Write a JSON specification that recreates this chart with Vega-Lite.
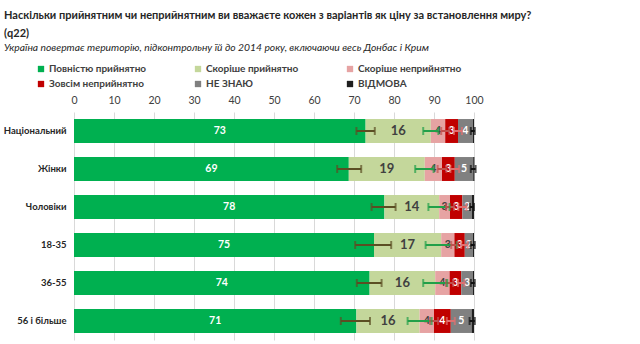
{
  "$schema": "https://vega.github.io/schema/vega-lite/v6.json",
  "autosize": "none",
  "width": 400,
  "height": 228,
  "padding": {"left": 74, "top": 112, "right": 166, "bottom": 4},
  "background": "white",
  "config": {
    "view": {"stroke": null},
    "font": "Lato"
  },
  "title": {
    "text": ["Наскільки прийнятним чи неприйнятним ви вважаєте кожен з варіантів як ціну за встановлення миру?", "(q22)"],
    "subtitle": "Україна повертає територію, підконтрольну їй до 2014 року, включаючи весь Донбас і Крим",
    "anchor": "start",
    "frame": "group",
    "dx": -70,
    "font": "Lato",
    "fontSize": 11,
    "fontWeight": "bold",
    "color": "#262626",
    "lineHeight": 18,
    "subtitleFont": "Lato",
    "subtitleFontSize": 10.3,
    "subtitleFontStyle": "italic",
    "subtitleColor": "#262626",
    "subtitlePadding": 4,
    "offset": 11
  },
  "datasets": {
    "bars": [
      {"g": "Національний", "s": "Повністю прийнятно", "k": 1, "v": 72.9},
      {"g": "Національний", "s": "Скоріше прийнятно", "k": 2, "v": 16.3},
      {"g": "Національний", "s": "Скоріше неприйнятно", "k": 3, "v": 3.6},
      {"g": "Національний", "s": "Зовсім неприйнятно", "k": 4, "v": 3.2},
      {"g": "Національний", "s": "НЕ ЗНАЮ", "k": 5, "v": 3.7},
      {"g": "Національний", "s": "ВІДМОВА", "k": 6, "v": 0.3},
      {"g": "Жінки", "s": "Повністю прийнятно", "k": 1, "v": 68.7},
      {"g": "Жінки", "s": "Скоріше прийнятно", "k": 2, "v": 19.0},
      {"g": "Жінки", "s": "Скоріше неприйнятно", "k": 3, "v": 4.3},
      {"g": "Жінки", "s": "Зовсім неприйнятно", "k": 4, "v": 3.2},
      {"g": "Жінки", "s": "НЕ ЗНАЮ", "k": 5, "v": 4.6},
      {"g": "Жінки", "s": "ВІДМОВА", "k": 6, "v": 0.3},
      {"g": "Чоловіки", "s": "Повністю прийнятно", "k": 1, "v": 77.6},
      {"g": "Чоловіки", "s": "Скоріше прийнятно", "k": 2, "v": 13.7},
      {"g": "Чоловіки", "s": "Скоріше неприйнятно", "k": 3, "v": 2.7},
      {"g": "Чоловіки", "s": "Зовсім неприйнятно", "k": 4, "v": 3.1},
      {"g": "Чоловіки", "s": "НЕ ЗНАЮ", "k": 5, "v": 2.4},
      {"g": "Чоловіки", "s": "ВІДМОВА", "k": 6, "v": 0.5},
      {"g": "18-35", "s": "Повністю прийнятно", "k": 1, "v": 75.0},
      {"g": "18-35", "s": "Скоріше прийнятно", "k": 2, "v": 16.8},
      {"g": "18-35", "s": "Скоріше неприйнятно", "k": 3, "v": 3.3},
      {"g": "18-35", "s": "Зовсім неприйнятно", "k": 4, "v": 2.6},
      {"g": "18-35", "s": "НЕ ЗНАЮ", "k": 5, "v": 2.0},
      {"g": "18-35", "s": "ВІДМОВА", "k": 6, "v": 0.3},
      {"g": "36-55", "s": "Повністю прийнятно", "k": 1, "v": 73.9},
      {"g": "36-55", "s": "Скоріше прийнятно", "k": 2, "v": 16.4},
      {"g": "36-55", "s": "Скоріше неприйнятно", "k": 3, "v": 3.6},
      {"g": "36-55", "s": "Зовсім неприйнятно", "k": 4, "v": 2.9},
      {"g": "36-55", "s": "НЕ ЗНАЮ", "k": 5, "v": 2.9},
      {"g": "36-55", "s": "ВІДМОВА", "k": 6, "v": 0.3},
      {"g": "56 і більше", "s": "Повністю прийнятно", "k": 1, "v": 70.6},
      {"g": "56 і більше", "s": "Скоріше прийнятно", "k": 2, "v": 15.8},
      {"g": "56 і більше", "s": "Скоріше неприйнятно", "k": 3, "v": 3.6},
      {"g": "56 і більше", "s": "Зовсім неприйнятно", "k": 4, "v": 4.2},
      {"g": "56 і більше", "s": "НЕ ЗНАЮ", "k": 5, "v": 5.2},
      {"g": "56 і більше", "s": "ВІДМОВА", "k": 6, "v": 0.6}
    ],
    "err": [
      {"g": "Національний", "e": "a", "lo": 70.6, "hi": 75.2},
      {"g": "Національний", "e": "b", "lo": 87.3, "hi": 91.1},
      {"g": "Національний", "e": "c", "lo": 91.8, "hi": 93.8},
      {"g": "Національний", "e": "d", "lo": 95.0, "hi": 97.0},
      {"g": "Національний", "e": "f", "lo": 99.2, "hi": 100.2},
      {"g": "Жінки", "e": "a", "lo": 65.8, "hi": 71.8},
      {"g": "Жінки", "e": "b", "lo": 85.3, "hi": 89.9},
      {"g": "Жінки", "e": "c", "lo": 90.9, "hi": 93.1},
      {"g": "Жінки", "e": "d", "lo": 94.1, "hi": 96.3},
      {"g": "Жінки", "e": "f", "lo": 99.2, "hi": 100.4},
      {"g": "Чоловіки", "e": "a", "lo": 74.4, "hi": 80.4},
      {"g": "Чоловіки", "e": "b", "lo": 88.6, "hi": 93.9},
      {"g": "Чоловіки", "e": "c", "lo": 93.0, "hi": 95.0},
      {"g": "Чоловіки", "e": "d", "lo": 96.1, "hi": 98.1},
      {"g": "Чоловіки", "e": "f", "lo": 99.0, "hi": 100.0},
      {"g": "18-35", "e": "a", "lo": 70.3, "hi": 79.3},
      {"g": "18-35", "e": "b", "lo": 87.9, "hi": 95.7},
      {"g": "18-35", "e": "c", "lo": 94.3, "hi": 95.9},
      {"g": "18-35", "e": "d", "lo": 96.8, "hi": 98.4},
      {"g": "18-35", "e": "f", "lo": 99.2, "hi": 100.2},
      {"g": "36-55", "e": "a", "lo": 70.7, "hi": 76.9},
      {"g": "36-55", "e": "b", "lo": 87.3, "hi": 93.3},
      {"g": "36-55", "e": "c", "lo": 93.0, "hi": 94.8},
      {"g": "36-55", "e": "d", "lo": 96.0, "hi": 97.6},
      {"g": "36-55", "e": "f", "lo": 99.2, "hi": 100.2},
      {"g": "56 і більше", "e": "a", "lo": 66.7, "hi": 74.0},
      {"g": "56 і більше", "e": "b", "lo": 83.4, "hi": 89.4},
      {"g": "56 і більше", "e": "c", "lo": 89.0, "hi": 91.0},
      {"g": "56 і більше", "e": "d", "lo": 93.2, "hi": 95.2},
      {"g": "56 і більше", "e": "f", "lo": 98.9, "hi": 100.2}
    ]
  },
  "resolve": {"scale": {"color": "independent"}},
  "layer": [
    {
      "data": {"name": "bars"},
      "mark": {"type": "bar"},
      "encoding": {
        "y": {
          "field": "g", "type": "nominal", "sort": null,
          "scale": {"paddingInner": 0.37, "paddingOuter": 0.185},
          "axis": {"title": null, "ticks": false, "domain": false, "labelPadding": 8, "labelFontSize": 9.5, "labelFontWeight": "bold", "labelColor": "#262626", "labelFont": "Lato"}
        },
        "x": {
          "field": "v", "type": "quantitative", "stack": "zero",
          "scale": {"domain": [0, 100], "nice": false},
          "axis": {"orient": "top", "title": null, "values": [0,10,20,30,40,50,60,70,80,90,100], "ticks": false, "domain": false, "labelPadding": 7, "labelFontSize": 10.5, "labelColor": "#404040", "labelOverlap": false, "labelFlush": false, "grid": true, "gridColor": "#d9d9d9", "gridWidth": 1, "labelFont": "Lato"}
        },
        "order": {"field": "k", "type": "quantitative"},
        "color": {
          "field": "s", "type": "nominal",
          "scale": {
            "domain": ["Повністю прийнятно", "Скоріше прийнятно", "Скоріше неприйнятно", "Зовсім неприйнятно", "НЕ ЗНАЮ", "ВІДМОВА"],
            "range": ["#00b050", "#c4d79b", "#e6a3a3", "#c00000", "#808080", "#1f1f1f"]
          },
          "legend": {
            "title": null, "orient": "none", "legendX": -38, "legendY": -48,
            "direction": "horizontal", "columns": 3, "columnPadding": 46, "rowPadding": 5,
            "symbolType": "square", "symbolSize": 40, "symbolStrokeWidth": 0, "symbolOffset": 0,
            "labelFontSize": 10, "labelColor": "#404040", "labelFontWeight": "bold", "labelOffset": 3, "labelFont": "Lato", "labelLimit": 200
          }
        }
      }
    },
    {
      "data": {"name": "bars"},
      "transform": [
        {"stack": "v", "groupby": ["g"], "sort": [{"field": "k", "order": "ascending"}], "as": ["x0", "x1"]},
        {"filter": "datum.k < 6"},
        {"calculate": "(datum.x0 + datum.x1) / 2", "as": "xm"}
      ],
      "mark": {"type": "text", "fontWeight": "bold", "font": "Lato", "baseline": "middle", "align": "center"},
      "encoding": {
        "y": {"field": "g", "type": "nominal", "sort": null},
        "x": {"field": "xm", "type": "quantitative",
          "axis": {"orient": "top", "title": null, "values": [0,10,20,30,40,50,60,70,80,90,100], "ticks": false, "domain": false, "labelPadding": 7, "labelFontSize": 10.5, "labelColor": "#404040", "labelOverlap": false, "labelFlush": false, "grid": true, "gridColor": "#d9d9d9", "gridWidth": 1, "labelFont": "Lato"}},
        "text": {"field": "v", "type": "quantitative", "format": ".0f"},
        "size": {"condition": {"test": "datum.k == 2", "value": 13}, "value": 10.5},
        "color": {"condition": {"test": "datum.k == 2 || datum.k == 3", "value": "#404040"}, "value": "white"}
      }
    },
    {
      "data": {"name": "err"},
      "mark": {"type": "rule", "strokeWidth": 2},
      "encoding": {
        "y": {"field": "g", "type": "nominal", "sort": null},
        "x": {"field": "lo", "type": "quantitative",
          "axis": {"orient": "top", "title": null, "values": [0,10,20,30,40,50,60,70,80,90,100], "ticks": false, "domain": false, "labelPadding": 7, "labelFontSize": 10.5, "labelColor": "#404040", "labelOverlap": false, "labelFlush": false, "grid": true, "gridColor": "#d9d9d9", "gridWidth": 1, "labelFont": "Lato"}},
        "x2": {"field": "hi"},
        "color": {"field": "e", "type": "nominal", "legend": null, "scale": {"domain": ["a", "b", "c", "d", "f"], "range": ["#5b4e23", "#21a049", "#c0504d", "#e07070", "#111111"]}}
      }
    },
    {
      "data": {"name": "err"},
      "mark": {"type": "tick", "thickness": 2, "size": 8, "orient": "vertical"},
      "encoding": {
        "y": {"field": "g", "type": "nominal", "sort": null},
        "x": {"field": "lo", "type": "quantitative",
          "axis": {"orient": "top", "title": null, "values": [0,10,20,30,40,50,60,70,80,90,100], "ticks": false, "domain": false, "labelPadding": 7, "labelFontSize": 10.5, "labelColor": "#404040", "labelOverlap": false, "labelFlush": false, "grid": true, "gridColor": "#d9d9d9", "gridWidth": 1, "labelFont": "Lato"}},
        "color": {"field": "e", "type": "nominal", "legend": null, "scale": {"domain": ["a", "b", "c", "d", "f"], "range": ["#5b4e23", "#21a049", "#c0504d", "#e07070", "#111111"]}}
      }
    },
    {
      "data": {"name": "err"},
      "mark": {"type": "tick", "thickness": 2, "size": 8, "orient": "vertical"},
      "encoding": {
        "y": {"field": "g", "type": "nominal", "sort": null},
        "x": {"field": "hi", "type": "quantitative",
          "axis": {"orient": "top", "title": null, "values": [0,10,20,30,40,50,60,70,80,90,100], "ticks": false, "domain": false, "labelPadding": 7, "labelFontSize": 10.5, "labelColor": "#404040", "labelOverlap": false, "labelFlush": false, "grid": true, "gridColor": "#d9d9d9", "gridWidth": 1, "labelFont": "Lato"}},
        "color": {"field": "e", "type": "nominal", "legend": null, "scale": {"domain": ["a", "b", "c", "d", "f"], "range": ["#5b4e23", "#21a049", "#c0504d", "#e07070", "#111111"]}}
      }
    }
  ]
}
